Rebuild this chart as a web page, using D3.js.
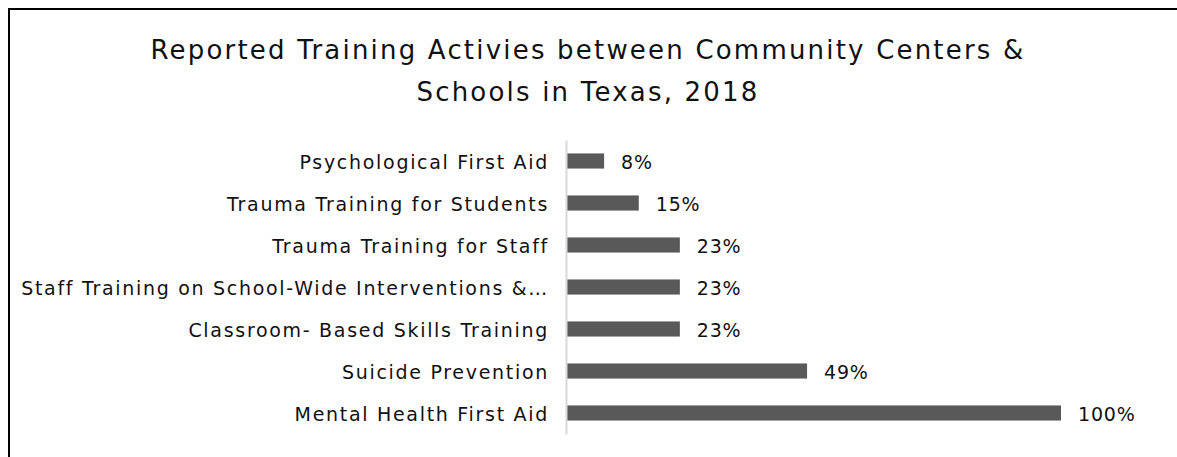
<!DOCTYPE html>
<html>
<head>
<meta charset="utf-8">
<script src="https://cdn.jsdelivr.net/npm/d3@7"></script>
<style>
	body { margin: 0; background: #fff; }
	svg { display: block; font-family: 'DejaVu Sans', sans-serif; }
</style>
</head>
<body>
<div id="chart"></div>
<script>
const titleLines = [
	'Reported Training Activies between Community Centers &',
	'Schools in Texas, 2018'
]

const categories = [
	'Psychological First Aid',
	'Trauma Training for Students',
	'Trauma Training for Staff',
	'Staff Training on School-Wide Interventions &…',
	'Classroom- Based Skills Training',
	'Suicide Prevention',
	'Mental Health First Aid'
]

const values = [7.7, 14.7, 23, 23, 23, 48.7, 100]
const valueLabels = ['8%', '15%', '23%', '23%', '23%', '49%', '100%']

const width = 1177
const height = 457
const margin = { top: 140, right: 116, bottom: 23, left: 566 }

const svg = d3
	.select('#chart')
	.append('svg')
	.attr('width', width)
	.attr('height', height)

// outer frame, runs off the right and bottom edge like the original
svg
	.append('rect')
	.attr('x', 9)
	.attr('y', 9)
	.attr('width', width + 20)
	.attr('height', height + 20)
	.style('fill', '#fff')
	.style('stroke', '#000')
	.style('stroke-width', 2)

svg
	.append('text')
	.attr('x', 588)
	.attr('y', 59)
	.style('text-anchor', 'middle')
	.style('font-size', '26px')
	.style('letter-spacing', '2.2px')
	.style('fill', '#111')
	.selectAll('tspan')
	.data(titleLines)
	.enter()
	.append('tspan')
	.attr('x', 588)
	.attr('dy', (d, i) => (i ? 42 : 0))
	.text(d => d)

const x = d3
	.scaleLinear()
	.domain([0, 100])
	.range([margin.left, 1061])

const y = d3
	.scaleBand()
	.domain(categories)
	.range([margin.top, height - margin.bottom])
	.paddingInner(0.64)
	.paddingOuter(0.32)

svg
	.append('g')
	.selectAll('rect')
	.data(values)
	.enter()
	.append('rect')
	.attr('x', x(0))
	.attr('y', (d, i) => y(categories[i]))
	.attr('width', d => x(d) - x(0))
	.attr('height', y.bandwidth())
	.style('fill', '#595959')

svg
	.append('g')
	.selectAll('text')
	.data(values)
	.enter()
	.append('text')
	.attr('x', d => x(d) + 17)
	.attr('y', (d, i) => y(categories[i]) + y.bandwidth() / 2)
	.attr('dy', '0.42em')
	.style('font-size', '19px')
	.style('letter-spacing', '0.8px')
	.style('fill', '#111')
	.text((d, i) => valueLabels[i])

const yAxis = g =>
	g
		.attr('transform', `translate(${margin.left},0)`)
		.call(d3.axisLeft(y).tickSize(0).tickPadding(17))
		.call(g => g.select('.domain').attr('stroke', '#d9d9d9').attr('stroke-width', 2))
		.call(g =>
			g
				.selectAll('text')
				.attr('dy', '0.42em')
				.style('font-family', "'DejaVu Sans', sans-serif")
				.style('font-size', '19px')
				.style('letter-spacing', '1.7px')
				.style('fill', '#111')
		)

svg.append('g').call(yAxis)
</script>
</body>
</html>
